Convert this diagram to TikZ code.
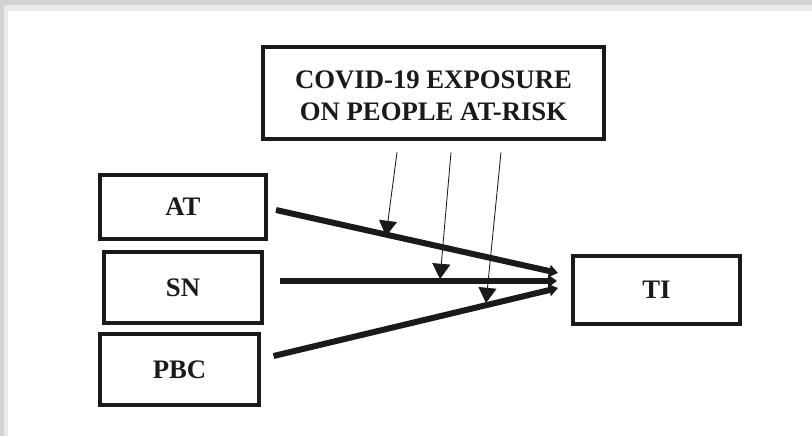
\documentclass[tikz,border=0pt]{standalone}
\usepackage{fontspec}
\usepackage{xcolor}
\usepackage{tikz}
\usetikzlibrary{arrows.meta,calc}
\newfontfamily\boxfont{Liberation Serif}
\definecolor{FrameGrey}{HTML}{D2D2D2}
\definecolor{InkBlack}{HTML}{1A1A1A}
\tikzset{
  varbox/.style={
    draw=InkBlack,line width=0.1cm,fill=white,
    font=\fontsize{19}{22.7}\boxfont\bfseries,text=InkBlack,
    align=center,inner sep=0pt
  },
  mainlink/.style={
    draw=InkBlack,line width=0.15cm,
    -{Triangle[width=0.3cm,length=0.22cm]}
  },
  modlink/.style={
    draw=InkBlack,line width=0.6pt,
    -{Triangle[width=0.45cm,length=0.38cm]}
  },
}

\begin{document}
\begin{tikzpicture}[x=0.025cm,y=-0.025cm]
  \useasboundingbox (0,0) rectangle (812,436);
  \fill[FrameGrey] (0,0) rectangle (812,436);
  \fill[FrameGrey!50] (4,5) rectangle (812,436);
  \fill[white] (8,11) rectangle (812,436);
  \node[varbox,minimum width=8.5cm,minimum height=2.32cm] (cov) at (433.5,93) {\\[-0.2cm]COVID-19 EXPOSURE\\ON PEOPLE AT-RISK};
  \node[varbox,minimum width=4.15cm,minimum height=1.62cm] (at) at (183,207) {AT};
  \node[varbox,minimum width=3.97cm,minimum height=1.75cm] (sn) at (183,287.5) {SN};
  \node[varbox,minimum width=3.95cm,minimum height=1.75cm] (pbc) at (179.5,369.5) {PBC};
  \node[varbox,minimum width=4.15cm,minimum height=1.72cm] (ti) at (656.5,290) {TI};
  \coordinate (tin1) at (558,273);
  \coordinate (tin2) at (557,281);
  \coordinate (tin3) at (558,288);
  \coordinate (m1) at (386,236);
  \coordinate (m2) at (440,279);
  \coordinate (m3) at (486,303);
  \draw[mainlink] ($(at.east)+(8,3)$) -- (tin1);
  \draw[mainlink] ($(sn.east)+(16,-6.5)$) -- (tin2);
  \draw[mainlink] ($(pbc.east)+(13,-13.5)$) -- (tin3);
  \draw[modlink] ($(cov.south)+(-36.5,11)$) -- (m1);
  \draw[modlink] ($(cov.south)+(17.5,11)$) -- (m2);
  \draw[modlink] ($(cov.south)+(67.5,11)$) -- (m3);
\end{tikzpicture}
\end{document}
